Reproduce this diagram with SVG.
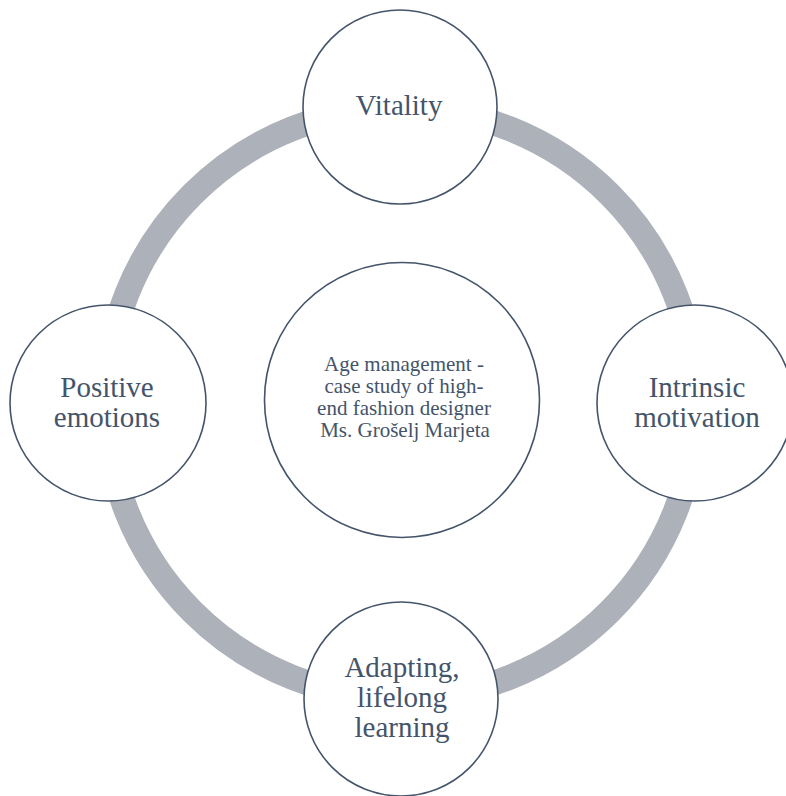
<svg xmlns="http://www.w3.org/2000/svg" width="786" height="796" viewBox="0 0 786 796">
<style>
.node{fill:#ffffff;stroke:#44546a;stroke-width:1.6}
.lbl{font-family:"Liberation Serif","Times New Roman",serif;font-size:29px;fill:#44546a;text-anchor:middle}
.ctr{font-family:"Liberation Serif","Times New Roman",serif;font-size:21px;fill:#44546a;text-anchor:middle}
</style>
<rect width="786" height="796" fill="#ffffff"/>
<g id="connectors">
<circle cx="401" cy="403" r="295" fill="none" stroke="#adb1b9" stroke-width="25"/>
</g>
<g id="center">
<circle class="node" cx="402" cy="400" r="137.5"/>
<text class="ctr" x="404" y="371">Age management -</text>
<text class="ctr" x="404" y="393">case study of high-</text>
<text class="ctr" x="404" y="415">end fashion designer</text>
<text class="ctr" x="405" y="437">Ms. Grošelj Marjeta</text>
</g>
<g id="vitality">
<circle class="node" cx="400" cy="107" r="97"/>
<text class="lbl" x="399" y="115">Vitality</text>
</g>
<g id="intrinsic">
<circle class="node" cx="695" cy="403" r="98"/>
<text class="lbl" x="697" y="397">Intrinsic</text>
<text class="lbl" x="697" y="427">motivation</text>
</g>
<g id="adapting">
<circle class="node" cx="401" cy="699" r="97"/>
<text class="lbl" x="402" y="677">Adapting,</text>
<text class="lbl" x="402" y="707">lifelong</text>
<text class="lbl" x="402" y="737">learning</text>
</g>
<g id="positive">
<circle class="node" cx="108" cy="403" r="98"/>
<text class="lbl" x="107" y="397">Positive</text>
<text class="lbl" x="107" y="427">emotions</text>
</g>
</svg>
